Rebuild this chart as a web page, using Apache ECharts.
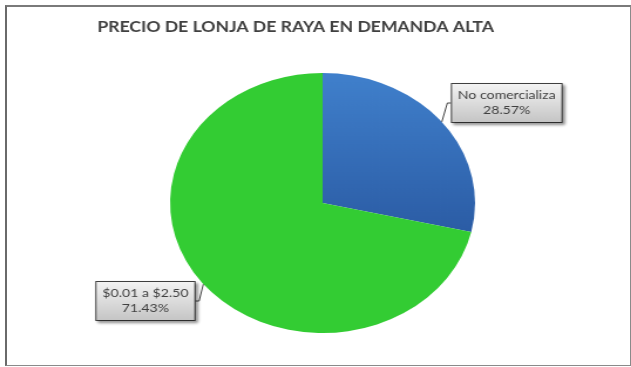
<!DOCTYPE html>
<html>
<head>
<meta charset="utf-8">
<script src="https://cdn.jsdelivr.net/npm/echarts@6/dist/echarts.min.js"></script>
<style>
    html, body { margin: 0; padding: 0; background: #fff; }
    #wrap { position: relative; width: 631px; height: 367px; overflow: hidden; }
    #frame {
        position: absolute; left: 5px; top: 5px; width: 623px; height: 358px;
        border: 1px solid #8a8a8a; border-left: 2px solid #6a6a6a; border-top: 2px solid #7a7a7a;
    }
    /* the original picture is stretched sideways, so the chart is too */
    #main { position: absolute; left: 0; top: 0; width: 538px; height: 367px;
        transform: scaleX(1.173); transform-origin: 0 0; }
</style>
</head>
<body>
<div id="wrap">
    <div id="frame"></div>
    <div id="main"></div>
</div>
<script>
    var titleText = 'PRECIO DE LONJA DE RAYA EN DEMANDA ALTA'
    var categories = ['No comercializa', '$0.01 a $2.50']
    var values = [28.57, 71.43]
    var sliceColors = [
        new echarts.graphic.LinearGradient(0, 0, 0, 1, [
            { offset: 0, color: '#4080cc' },
            { offset: 1, color: '#2b5ca5' }
        ]),
        '#33cc33'
    ]
    // centre-top of each label box (unstretched px)
    var labelSpots = [
        { x: 432, y: 84 },
        { x: 124, y: 282 }
    ]

    var chart = echarts.init(document.getElementById('main'))
    var pieData = []
    for (var i in categories) {
        pieData.push({
            name: categories[i],
            value: values[i],
            itemStyle: { color: sliceColors[i] }
        })
    }

    chart.setOption({
        animation: false,
        backgroundColor: 'transparent',
        title: {
            text: titleText,
            left: 78,
            top: 15,
            textStyle: {
                fontFamily: 'Lato',
                fontSize: 15,
                fontWeight: 'bold',
                color: '#404040'
            }
        },
        series: [
            {
                type: 'pie',
                center: [275, 203],
                radius: 130,
                startAngle: 90,
                clockwise: true,
                data: pieData,
                itemStyle: { borderWidth: 0 },
                emphasis: { disabled: true },
                label: {
                    show: true,
                    position: 'outside',
                    formatter: '{b}\n{c}%',
                    fontFamily: 'Lato',
                    fontSize: 12,
                    lineHeight: 15,
                    color: '#404040',
                    align: 'center',
                    padding: [4, 5],
                    borderColor: '#404040',
                    borderWidth: 1,
                    backgroundColor: new echarts.graphic.LinearGradient(0, 0, 0, 1, [
                        { offset: 0, color: '#f4f4f4' },
                        { offset: 1, color: '#c4c4c4' }
                    ]),
                    shadowColor: 'rgba(0,0,0,0.35)',
                    shadowBlur: 3,
                    shadowOffsetX: 2,
                    shadowOffsetY: 2
                },
                labelLine: {
                    show: true,
                    length: 3,
                    length2: 3,
                    lineStyle: { color: '#404040', width: 1 }
                },
                labelLayout: function (params) {
                    var spot = labelSpots[params.dataIndex]
                    return {
                        x: spot.x,
                        y: spot.y,
                        align: 'center',
                        verticalAlign: 'top'
                    }
                }
            }
        ]
    })
</script>
</body>
</html>
